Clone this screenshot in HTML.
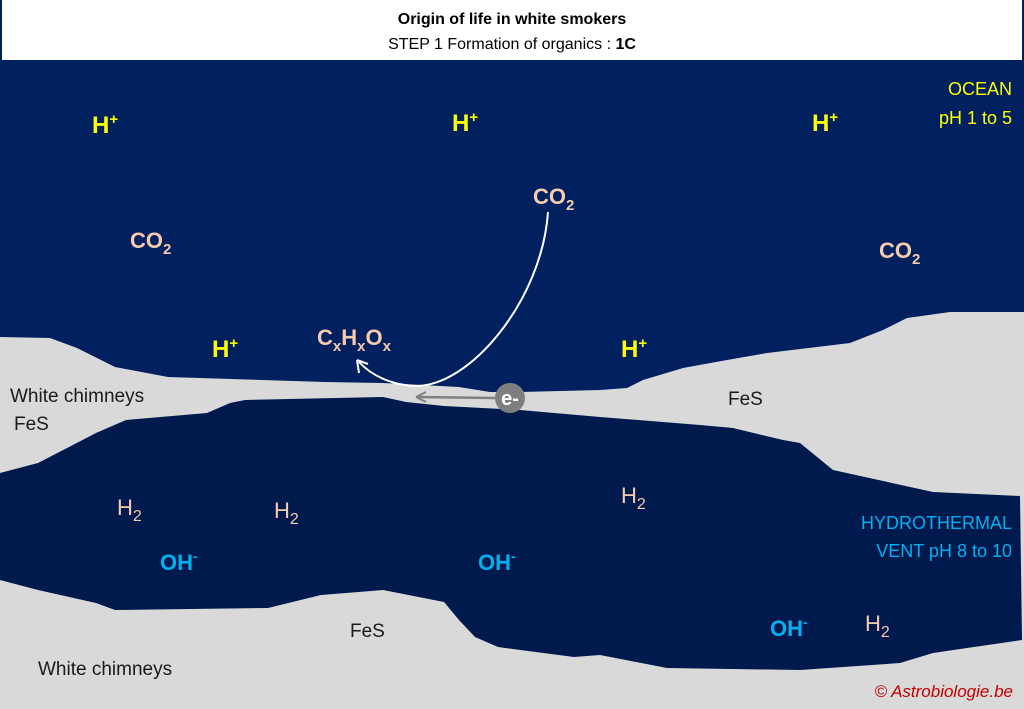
<!DOCTYPE html>
<html><head><meta charset="utf-8"><style>
html,body{margin:0;padding:0;background:#fff;}
svg{display:block;font-family:"Liberation Sans",sans-serif;}
.b{font-weight:bold;}
</style></head><body>
<svg width="1024" height="709" viewBox="0 0 1024 709" xmlns="http://www.w3.org/2000/svg">
<rect x="0" y="0" width="1024" height="709" fill="#fff"/>
<rect x="0" y="0" width="2" height="60" fill="#002060"/>
<rect x="1022" y="0" width="2" height="60" fill="#002060"/>
<text x="512" y="24" text-anchor="middle" font-size="16" class="b" fill="#000">Origin of life in white smokers</text>
<text x="512" y="49" text-anchor="middle" font-size="16" fill="#000">STEP 1 Formation of organics : <tspan class="b">1C</tspan></text>
<rect x="0" y="60" width="1024" height="649" fill="#002060"/>
<!-- gray chimneys -->
<path d="M0,337 L50,338 L77,348 L115,367 L168,377 L325,382 L383,383 L459,387 L490,392 L520,392 L600,390 L627,388 L643,380 L683,368 L727,360 L767,353 L850,343 L883,330 L907,318 L950,312 L1024,312 L1024,709 L0,709 Z" fill="#D9D9D9"/>
<!-- vent -->
<path d="M0,473 L38,463 L69,447 L96,433 L126,420 L207,413 L230,403 L245,400 L383,397 L406,402 L444,406 L520,410 L600,417 L700,425 L733,428 L783,440 L800,443 L833,470 L933,492 L1020,496 L1022,640 L967,648 L933,653 L900,663 L800,670 L667,668 L600,655 L574,657 L498,647 L475,637 L459,620 L444,602 L383,590 L321,595 L268,608 L115,610 L96,603 L38,590 L0,580 Z" fill="#001A4D"/>
<!-- arrows -->
<path d="M548,212 C542,300 470,387 415,386 C392,385 372,376 359,362" fill="none" stroke="#fff" stroke-width="2"/>
<path d="M357,360 L359,373 M357,360 L368,364" stroke="#fff" stroke-width="2" fill="none"/>
<path d="M495,398 L418,397" stroke="#808080" stroke-width="2.5" fill="none"/>
<path d="M416,397 L426,392 M416,397 L426,402" stroke="#808080" stroke-width="2" fill="none"/>
<circle cx="510" cy="398" r="15" fill="#7F7F7F"/>
<text x="510" y="405" text-anchor="middle" font-size="20" class="b" fill="#fff">e-</text>
<!-- H+ -->
<g fill="#FFFF00" class="b" font-size="24">
<text x="92" y="133">H<tspan font-size="15" dy="-9">+</tspan></text>
<text x="452" y="131">H<tspan font-size="15" dy="-9">+</tspan></text>
<text x="812" y="131">H<tspan font-size="15" dy="-9">+</tspan></text>
<text x="212" y="357">H<tspan font-size="15" dy="-9">+</tspan></text>
<text x="621" y="357">H<tspan font-size="15" dy="-9">+</tspan></text>
</g>
<!-- CO2 / organics / H2 -->
<g fill="#F8CBAD" class="b" font-size="22">
<text x="130" y="248">CO<tspan font-size="15" dy="6">2</tspan></text>
<text x="533" y="204">CO<tspan font-size="15" dy="6">2</tspan></text>
<text x="879" y="258">CO<tspan font-size="15" dy="6">2</tspan></text>
<text x="317" y="345">C<tspan font-size="15" dy="6">x</tspan><tspan dy="-6">H</tspan><tspan font-size="15" dy="6">x</tspan><tspan dy="-6">O</tspan><tspan font-size="15" dy="6">x</tspan></text>
</g>
<g fill="#F8CBAD" font-size="22">
<text x="117" y="515">H<tspan font-size="16" dy="6">2</tspan></text>
<text x="274" y="518">H<tspan font-size="16" dy="6">2</tspan></text>
<text x="621" y="503">H<tspan font-size="16" dy="6">2</tspan></text>
<text x="865" y="631">H<tspan font-size="16" dy="6">2</tspan></text>
</g>
<g fill="#00B0F0" class="b" font-size="22">
<text x="160" y="570">OH<tspan font-size="14" dy="-9">-</tspan></text>
<text x="478" y="570">OH<tspan font-size="14" dy="-9">-</tspan></text>
<text x="770" y="636">OH<tspan font-size="14" dy="-9">-</tspan></text>
</g>
<g fill="#FFFF00" font-size="18" text-anchor="end">
<text x="1012" y="95">OCEAN</text>
<text x="1012" y="124">pH 1 to 5</text>
</g>
<g fill="#00B0F0" font-size="18" text-anchor="end">
<text x="1012" y="529">HYDROTHERMAL</text>
<text x="1012" y="557">VENT pH 8 to 10</text>
</g>
<g fill="#1a1a1a" font-size="19">
<text x="10" y="402">White chimneys</text>
<text x="14" y="430">FeS</text>
<text x="728" y="405">FeS</text>
<text x="350" y="637">FeS</text>
<text x="38" y="675">White chimneys</text>
</g>
<text x="1013" y="697" text-anchor="end" font-size="17" font-style="italic" fill="#C00000">© Astrobiologie.be</text>
</svg>
</body></html>
